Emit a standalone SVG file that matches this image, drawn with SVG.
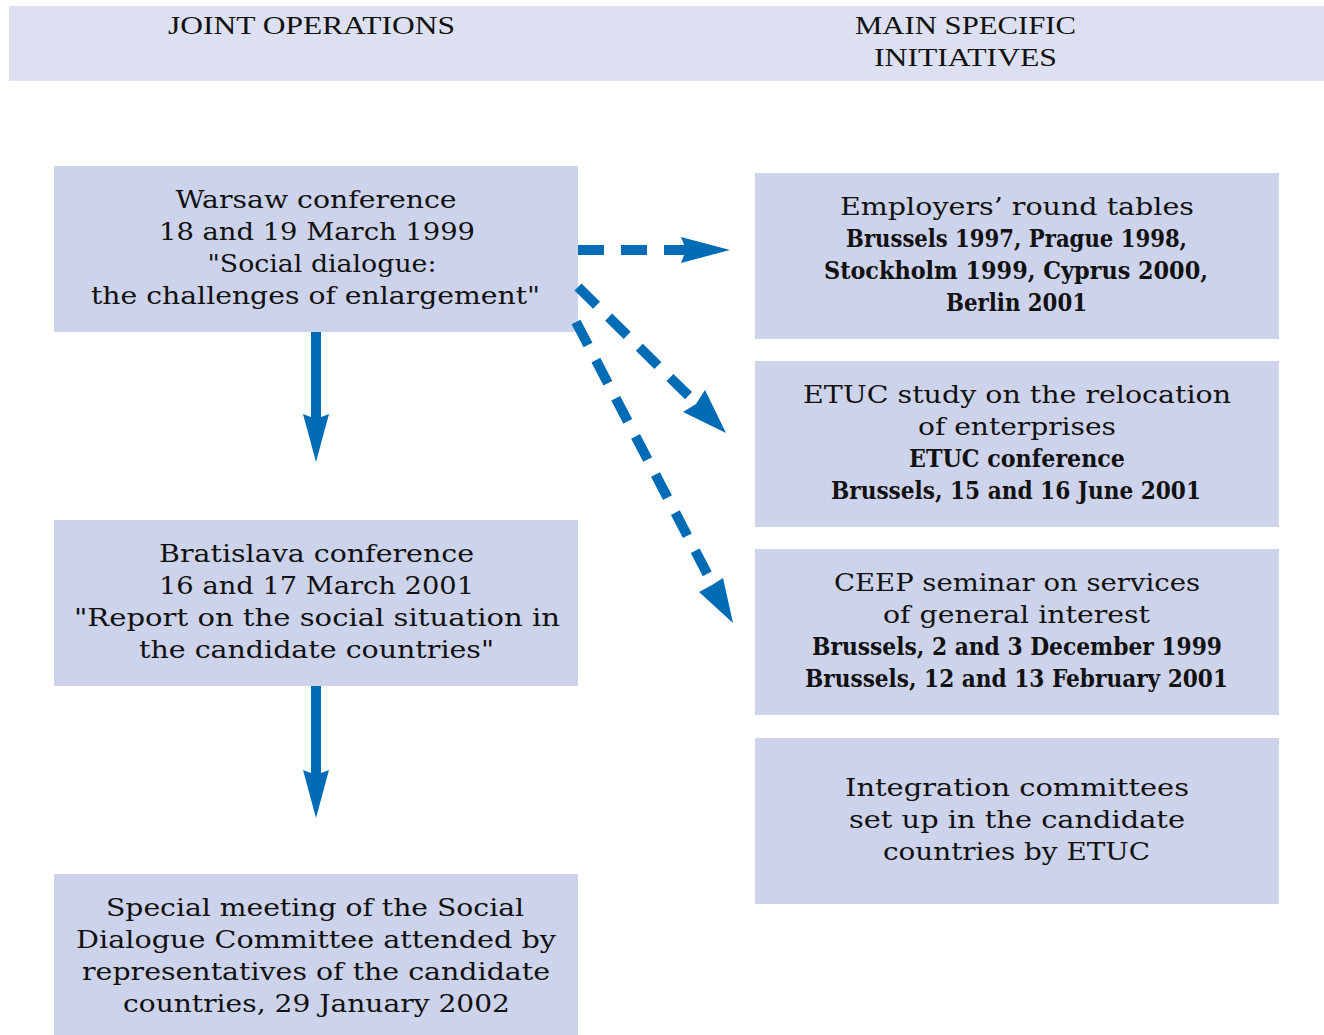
<svg xmlns="http://www.w3.org/2000/svg" width="1324" height="1035" viewBox="0 0 1324 1035">
<style>
.hdr{fill:#dde0f0}
.box{fill:#cdd3ea}
.ht{font-family:"Liberation Serif",serif;font-size:25px;fill:#111;text-anchor:middle}
.t{font-family:"DejaVu Serif",serif;font-size:24px;fill:#111;text-anchor:middle}
.b{font-weight:bold}
.ln{stroke:#006cb6;stroke-width:10;fill:none}
.dash{stroke-dasharray:26 17}
.ah{fill:#006cb6}
</style>
<rect width="1324" height="1035" fill="#fff"/>
<g id="header">
<rect class="hdr" x="9" y="6" width="1315" height="75"/>
<text class="ht" x="311.5" y="34" textLength="287" lengthAdjust="spacingAndGlyphs">JOINT OPERATIONS</text>
<text class="ht" x="965.5" y="34" textLength="221" lengthAdjust="spacingAndGlyphs">MAIN SPECIFIC</text>
<text class="ht" x="965.5" y="66" textLength="183" lengthAdjust="spacingAndGlyphs">INITIATIVES</text>
</g>
<g id="warsaw">
<rect class="box" x="54" y="166" width="524" height="166"/>
<text class="t" x="316" y="208" textLength="281" lengthAdjust="spacingAndGlyphs">Warsaw conference</text>
<text class="t" x="317" y="240" textLength="316" lengthAdjust="spacingAndGlyphs">18 and 19 March 1999</text>
<text class="t" x="322" y="272" textLength="229" lengthAdjust="spacingAndGlyphs">"Social dialogue:</text>
<text class="t" x="315.5" y="304" textLength="449" lengthAdjust="spacingAndGlyphs">the challenges of enlargement"</text>
</g>
<g id="bratislava">
<rect class="box" x="54" y="520" width="524" height="166"/>
<text class="t" x="316.5" y="562" textLength="315" lengthAdjust="spacingAndGlyphs">Bratislava conference</text>
<text class="t" x="316.5" y="594" textLength="315" lengthAdjust="spacingAndGlyphs">16 and 17 March 2001</text>
<text class="t" x="317" y="626" textLength="486" lengthAdjust="spacingAndGlyphs">"Report on the social situation in</text>
<text class="t" x="316.5" y="658" textLength="355" lengthAdjust="spacingAndGlyphs">the candidate countries"</text>
</g>
<g id="special">
<rect class="box" x="54" y="874" width="524" height="161"/>
<text class="t" x="315" y="916" textLength="418" lengthAdjust="spacingAndGlyphs">Special meeting of the Social</text>
<text class="t" x="316" y="948" textLength="480" lengthAdjust="spacingAndGlyphs">Dialogue Committee attended by</text>
<text class="t" x="316" y="980" textLength="468" lengthAdjust="spacingAndGlyphs">representatives of the candidate</text>
<text class="t" x="316.5" y="1012" textLength="387" lengthAdjust="spacingAndGlyphs">countries, 29 January 2002</text>
</g>
<g id="employers">
<rect class="box" x="755" y="173" width="524" height="166"/>
<text class="t" x="1017" y="215" textLength="354" lengthAdjust="spacingAndGlyphs">Employers’ round tables</text>
<text class="t b" x="1016.5" y="247" textLength="341" lengthAdjust="spacingAndGlyphs">Brussels 1997, Prague 1998,</text>
<text class="t b" x="1016" y="279" textLength="384" lengthAdjust="spacingAndGlyphs">Stockholm 1999, Cyprus 2000,</text>
<text class="t b" x="1016.5" y="311" textLength="141" lengthAdjust="spacingAndGlyphs">Berlin 2001</text>
</g>
<g id="etuc">
<rect class="box" x="755" y="361" width="524" height="166"/>
<text class="t" x="1017" y="403" textLength="428" lengthAdjust="spacingAndGlyphs">ETUC study on the relocation</text>
<text class="t" x="1017" y="435" textLength="198" lengthAdjust="spacingAndGlyphs">of enterprises</text>
<text class="t b" x="1017" y="467" textLength="216" lengthAdjust="spacingAndGlyphs">ETUC conference</text>
<text class="t b" x="1016" y="499" textLength="370" lengthAdjust="spacingAndGlyphs">Brussels, 15 and 16 June 2001</text>
</g>
<g id="ceep">
<rect class="box" x="755" y="549" width="524" height="166"/>
<text class="t" x="1017" y="591" textLength="366" lengthAdjust="spacingAndGlyphs">CEEP seminar on services</text>
<text class="t" x="1016.5" y="623" textLength="267" lengthAdjust="spacingAndGlyphs">of general interest</text>
<text class="t b" x="1017" y="655" textLength="410" lengthAdjust="spacingAndGlyphs">Brussels, 2 and 3 December 1999</text>
<text class="t b" x="1016.5" y="687" textLength="423" lengthAdjust="spacingAndGlyphs">Brussels, 12 and 13 February 2001</text>
</g>
<g id="integration">
<rect class="box" x="755" y="738" width="524" height="166"/>
<text class="t" x="1017" y="796" textLength="344" lengthAdjust="spacingAndGlyphs">Integration committees</text>
<text class="t" x="1017" y="828" textLength="336" lengthAdjust="spacingAndGlyphs">set up in the candidate</text>
<text class="t" x="1016.5" y="860" textLength="267" lengthAdjust="spacingAndGlyphs">countries by ETUC</text>
</g>
<g id="connectors">
<line class="ln" x1="316" y1="332" x2="316" y2="420"/>
<polygon class="ah" points="303,414 316,419 329,414 316,462"/>
<line class="ln" x1="316" y1="686" x2="316" y2="776"/>
<polygon class="ah" points="303,770 316,775 329,770 316,818"/>
<line class="ln dash" x1="578" y1="250" x2="688" y2="250"/>
<polygon class="ah" points="681,237 686,250 681,263 730,250"/>
<line class="ln dash" x1="578" y1="287" x2="697" y2="404"/>
<polygon class="ah" points="683,412 696,404 705,390 726,433"/>
<line class="ln dash" x1="576" y1="322" x2="712" y2="583"/>
<polygon class="ah" points="699,592 712,585 723,578 733,623"/>
</g>
</svg>
